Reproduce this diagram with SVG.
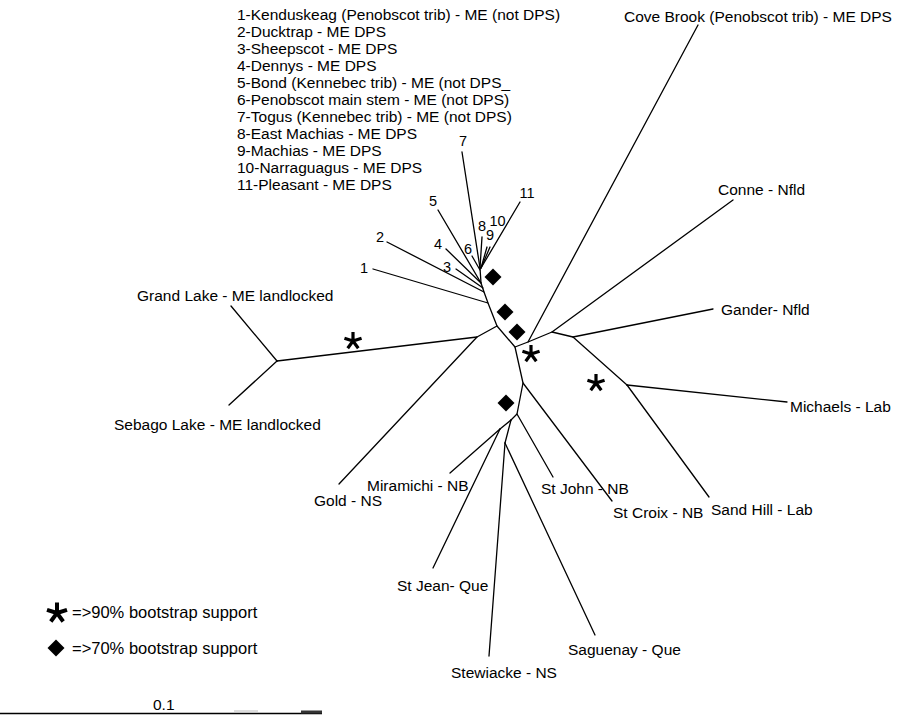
<svg xmlns="http://www.w3.org/2000/svg" width="898" height="715" viewBox="0 0 898 715">
<style>
.br{stroke:#000;stroke-width:1.3;fill:none;stroke-linecap:round;stroke-linejoin:round}
text{font-family:"Liberation Sans",Arial,Helvetica,sans-serif;font-size:15.5px;fill:#000}
.num{text-anchor:middle;font-size:14.5px}
.leg{font-size:16.5px}
.ast{stroke:#000;stroke-width:3.2;fill:none}
.astL{stroke:#000;stroke-width:4;fill:none}
</style>
<defs>
<path id="dm" d="M0,-8.5 L8.5,0 L0,8.5 L-8.5,0Z" fill="#000"/>
<path id="st" class="ast" d="M0,0 L0,-9 M0,0 L8.56,-2.78 M0,0 L5.29,7.28 M0,0 L-5.29,7.28 M0,0 L-8.56,-2.78"/>
<path id="stL" class="astL" d="M0,0 L0,-10.5 M0,0 L10,-3.2 M0,0 L6.2,8.5 M0,0 L-6.2,8.5 M0,0 L-10,-3.2"/>
</defs>
<rect width="898" height="715" fill="#fff"/>

<g id="connectors">
<path class="br" d="M480,268 L481,283 L484,292 L488,303 L497,326 L515,347 L523,383 L517,414 L511,420"/>
<path class="br" d="M462,152 L480,268"/>
<path class="br" d="M472,256 L480,270"/>
<path class="br" d="M482,237 L480,268"/>
<path class="br" d="M487,247 L481,268"/>
<path class="br" d="M490,247 L481,268"/>
<path class="br" d="M520,202 L481,268"/>
<path class="br" d="M438,210 L481,283"/>
<path class="br" d="M446,249 L481,283"/>
<path class="br" d="M456,269 L483,288"/>
<path class="br" d="M387,242 L484,292"/>
<path class="br" d="M373,269 L488,303"/>
<path class="br" d="M497,326 L477,337 L277,361"/>
<path class="br" d="M277,361 L231,306"/>
<path class="br" d="M277,361 L229,405"/>
<path class="br" d="M477,337 L339,484"/>
<path class="br" d="M515,347 L528,342 L552,332 L573,337 L627,385"/>
<path class="br" d="M528,342 L698,25"/>
<path class="br" d="M552,332 L733,200"/>
<path class="br" d="M573,337 L713,309"/>
<path class="br" d="M627,385 L787,402"/>
<path class="br" d="M627,385 L709,497"/>
<path class="br" d="M523,383 L612,501"/>
<path class="br" d="M517,414 L553,477"/>
<path class="br" d="M511,420 L500,429"/>
<path class="br" d="M511,420 L505,443"/>
<path class="br" d="M500,429 L450,473"/>
<path class="br" d="M500,429 L433,568"/>
<path class="br" d="M505,443 L489,656"/>
<path class="br" d="M505,443 L595,635"/>
</g>

<g id="support">
<use href="#dm" x="493" y="277"/>
<use href="#dm" x="505" y="312"/>
<use href="#dm" x="517" y="332"/>
<use href="#dm" x="506" y="403"/>
<use href="#st" x="353" y="341"/>
<use href="#st" x="531" y="354"/>
<use href="#st" x="596" y="383"/>
</g>

<g id="key">
<text x="237" y="20">1-Kenduskeag (Penobscot trib) - ME (not DPS)</text>
<text x="237" y="37">2-Ducktrap - ME DPS</text>
<text x="237" y="54">3-Sheepscot - ME DPS</text>
<text x="237" y="71">4-Dennys - ME DPS</text>
<text x="237" y="88">5-Bond (Kennebec trib) - ME (not DPS_</text>
<text x="237" y="105">6-Penobscot main stem - ME (not DPS)</text>
<text x="237" y="122">7-Togus (Kennebec trib) - ME (not DPS)</text>
<text x="237" y="139">8-East Machias - ME DPS</text>
<text x="237" y="156">9-Machias - ME DPS</text>
<text x="237" y="173">10-Narraguagus - ME DPS</text>
<text x="237" y="190">11-Pleasant - ME DPS</text>
</g>

<g id="n1"><text class="num" x="364" y="272.5">1</text></g>
<g id="n2"><text class="num" x="380" y="241.5">2</text></g>
<g id="n3"><text class="num" x="447" y="271.5">3</text></g>
<g id="n4"><text class="num" x="438" y="248.5">4</text></g>
<g id="n5"><text class="num" x="433" y="205.5">5</text></g>
<g id="n6"><text class="num" x="468" y="253.5">6</text></g>
<g id="n7"><text class="num" x="463" y="145.5">7</text></g>
<g id="n8"><text class="num" x="482" y="231">8</text></g>
<g id="n9"><text class="num" x="490" y="240">9</text></g>
<g id="n10"><text class="num" x="497.5" y="226">10</text></g>
<g id="n11"><text class="num" x="527" y="197.5">11</text></g>

<g id="cove"><text x="624" y="21.5">Cove Brook (Penobscot trib) - ME DPS</text></g>
<g id="conne"><text x="718" y="194.5">Conne - Nfld</text></g>
<g id="gander"><text x="721" y="314.5">Gander- Nfld</text></g>
<g id="michaels"><text x="790" y="411.5">Michaels - Lab</text></g>
<g id="sandhill"><text x="711" y="514.5">Sand Hill - Lab</text></g>
<g id="stcroix"><text x="613" y="517.5">St Croix - NB</text></g>
<g id="stjohn"><text x="541" y="493.5">St John - NB</text></g>
<g id="saguenay"><text x="568" y="654.5">Saguenay - Que</text></g>
<g id="stewiacke"><text x="451" y="677.5">Stewiacke - NS</text></g>
<g id="stjean"><text x="397" y="590.5">St Jean- Que</text></g>
<g id="miramichi"><text x="367" y="490.5">Miramichi - NB</text></g>
<g id="gold"><text x="314" y="505.5">Gold - NS</text></g>
<g id="sebago"><text x="114" y="429.5">Sebago Lake - ME landlocked</text></g>
<g id="grandlake"><text x="137" y="300.5">Grand Lake - ME landlocked</text></g>

<g id="legend">
<use href="#stL" x="57" y="613"/>
<text class="leg" x="72" y="618">=&gt;90% bootstrap support</text>
<use href="#dm" x="56" y="648"/>
<text class="leg" x="72" y="654">=&gt;70% bootstrap support</text>
</g>

<g id="scale">
<text x="153" y="710">0.1</text>
<line x1="0" y1="713.5" x2="322" y2="713.5" stroke="#000" stroke-width="1.6"/>
<rect x="301" y="710.5" width="21" height="3" fill="#333"/>
<line x1="234" y1="711" x2="258" y2="711" stroke="#bbb" stroke-width="1"/>
</g>
</svg>
